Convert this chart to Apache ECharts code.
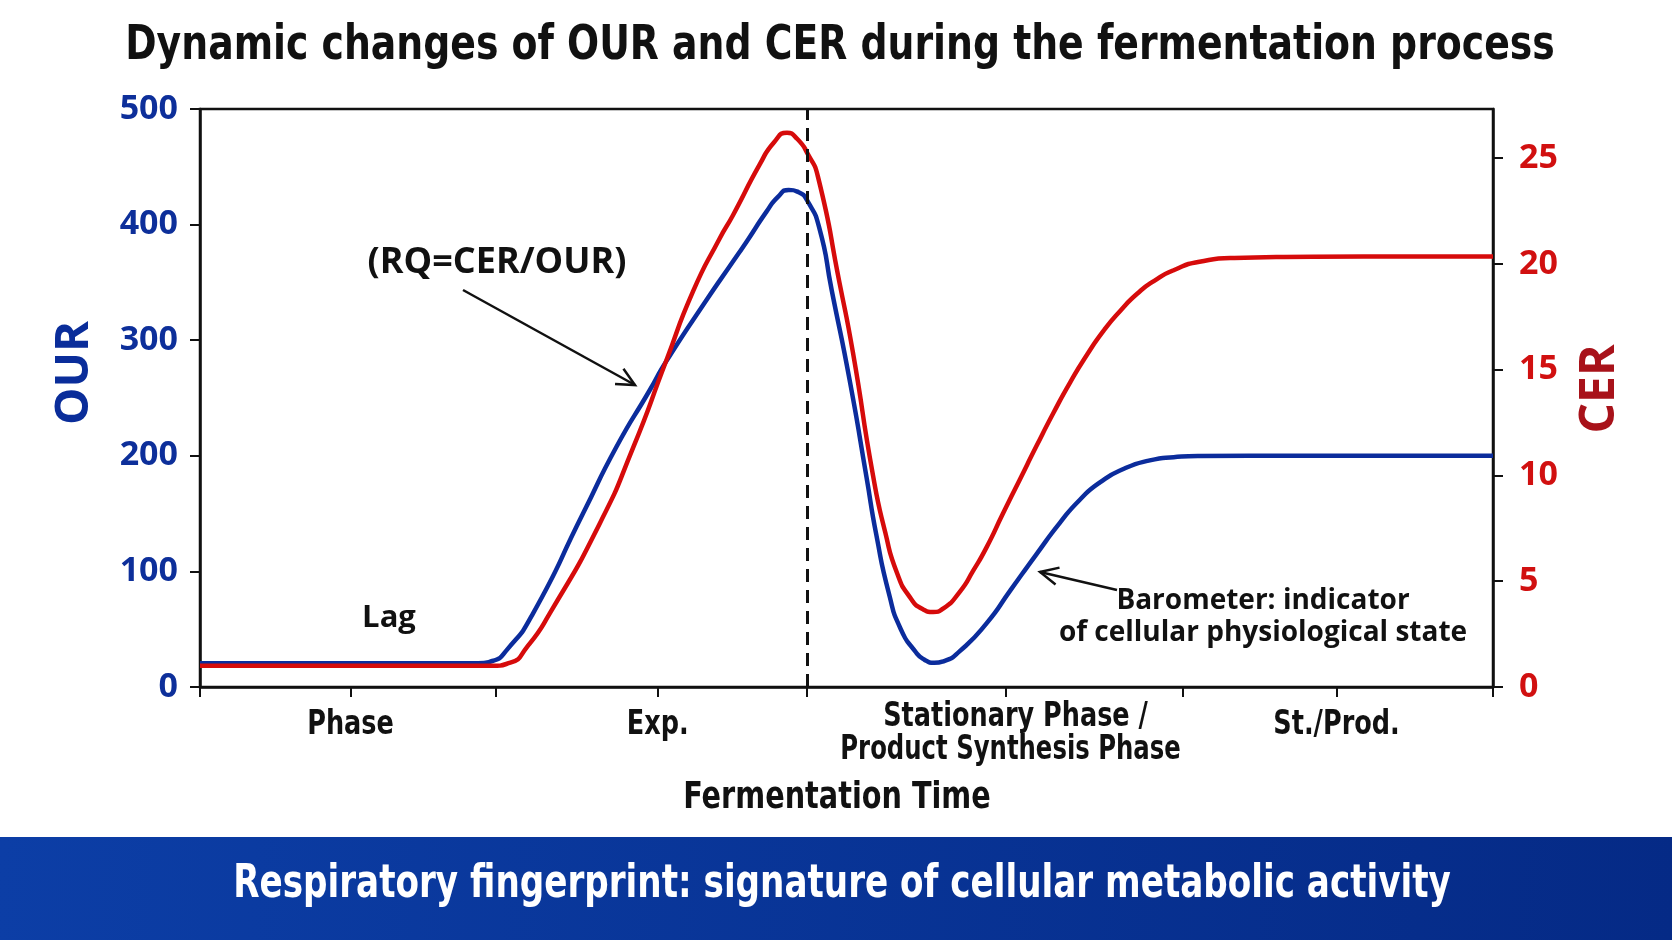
<!DOCTYPE html>
<html><head><meta charset="utf-8">
<script src="https://cdn.jsdelivr.net/npm/echarts@6/dist/echarts.min.js"></script>
<style>html,body{margin:0;padding:0;background:#fff}#c{width:1672px;height:940px}</style>
</head><body><div id="c"></div>
<script>
// ---- data ----
const ourTime   = [0, 10, 20, 21.5, 22.6, 23.8, 25.75, 29.62, 32.2, 34.78, 36.02, 39.16, 41.22, 42.26, 43.8, 44.7, 45.53, 46.3, 47.0, 47.9, 48.86, 50.25, 51.54, 52.3, 53.3, 54.2, 55.3, 56.0, 56.8, 57.6, 58.76, 60.83, 62.7, 64.7, 66.5, 68.05, 69.6, 71.5, 73.46, 75.3, 77.3, 85, 100];
const ourValues = [20.5, 20.5, 20.5, 20.5, 22.5, 33, 63.5, 150, 207.6, 256.7, 281, 334.5, 368, 385, 411, 424, 430, 428, 420, 397, 343, 265, 182, 132, 80, 50, 31, 23.8, 21, 22.7, 31, 55, 84, 115, 142, 162, 177, 189, 196, 198.8, 199.8, 200, 200];
const cerTime   = [0, 10, 20, 22.5, 24.0, 25.3, 27.04, 30.91, 33.49, 36.02, 38.13, 40.19, 41.22, 43.29, 44.4, 45.4, 46.2, 47.0, 47.8, 49.46, 50.5, 52.05, 53.0, 53.9, 54.9, 55.9, 56.7, 57.5, 58.76, 59.8, 60.83, 62.1, 63.4, 64.7, 66.0, 67.3, 68.6, 69.9, 71.2, 72.5, 73.8, 75.3, 77.3, 80, 90, 100];
const cerValues = [1.0, 1.0, 1.0, 1.0, 1.15, 1.9, 3.47, 7.72, 11.3, 15.36, 18.7, 21.2, 22.3, 24.7, 25.75, 26.2, 25.9, 25.2, 24.1, 19.1, 15.8, 10.0, 7.3, 5.4, 4.25, 3.68, 3.55, 3.72, 4.5, 5.5, 6.6, 8.2, 9.8, 11.4, 12.95, 14.4, 15.7, 16.85, 17.8, 18.6, 19.2, 19.7, 20.1, 20.28, 20.35, 20.35];
const ourTicks = [0, 100, 200, 300, 400, 500];
const cerTicks = [0, 5, 10, 15, 20, 25];
const cerMax = 27.32;
const phaseBoundaries = [0, 22.84, 46.93, 76.0, 100];
const phaseLabelPos = [11.64, 35.4, 62.3, 87.9];
const phaseLabels = ['Phase', 'Exp.', 'Stationary Phase /\nProduct Synthesis Phase', 'St./Prod.'];
const peakMarker = 46.93;

const NARROW = "'Liberation Sans Narrow','DejaVu Sans Condensed',sans-serif";
const WIDE = "'Open Sans','Noto Sans',sans-serif";
const BLUE = '#0b2c9c', RED = '#d60b0b', INK = '#111111';

const chart = echarts.init(document.getElementById('c'), null, {renderer: 'canvas'});
const zip = (xs, ys) => xs.map((x, i) => [x, ys[i]]);
const tickVals = phaseBoundaries.concat(phaseLabelPos).sort((a, b) => a - b);

function arrow(x1, y1, x2, y2, len) {
  const a = Math.atan2(y2 - y1, x2 - x1), s = 0.45;
  return [
    {type: 'line', shape: {x1, y1, x2, y2}, style: {stroke: INK, lineWidth: 2.5}, z: 20},
    {type: 'polyline', shape: {points: [
      [x2 - len * Math.cos(a - s), y2 - len * Math.sin(a - s)], [x2, y2],
      [x2 - len * Math.cos(a + s), y2 - len * Math.sin(a + s)]]},
     style: {stroke: INK, lineWidth: 2.5, fill: null}, z: 20}
  ];
}
function txt(text, x, y, size, color, family, extra, lh) {
  return Object.assign({type: 'text', x, y, z: 20, style: {text, fill: color, fontSize: size, fontWeight: 'bold',
    fontFamily: family, align: 'center', verticalAlign: 'middle', lineHeight: lh || size * 1.05}}, extra || {});
}

chart.setOption({
  backgroundColor: '#ffffff',
  animation: false,
  grid: {left: 200, right: 179, top: 109, bottom: 253, show: true, borderColor: INK, borderWidth: 2.5, backgroundColor: 'transparent'},
  xAxis: {type: 'value', min: 0, max: 100,
    axisLine: {show: true, onZero: false, lineStyle: {color: INK, width: 2.5}},
    axisTick: {show: true, customValues: tickVals, length: 10, lineStyle: {color: INK, width: 2}},
    axisLabel: {show: false},
    splitLine: {show: false}},
  yAxis: [
    {type: 'value', position: 'left', min: ourTicks[0], max: ourTicks[ourTicks.length - 1], interval: ourTicks[1] - ourTicks[0],
      axisLine: {show: true, lineStyle: {color: INK, width: 2.5}},
      axisTick: {show: true, length: 10, lineStyle: {color: INK, width: 2}},
      axisLabel: {color: '#0d2f9a', fontFamily: WIDE, fontSize: 34, fontWeight: 'bold', margin: 22},
      splitLine: {show: false}},
    {type: 'value', position: 'right', min: 0, max: cerMax, interval: cerTicks[1] - cerTicks[0],
      axisLine: {show: true, lineStyle: {color: INK, width: 2.5}},
      axisTick: {show: true, customValues: cerTicks, length: 10, lineStyle: {color: INK, width: 2}},
      axisLabel: {showMaxLabel: false, color: '#d11010', fontFamily: WIDE, fontSize: 34, fontWeight: 'bold', margin: 26},
      splitLine: {show: false}}
  ],
  series: [
    {name: 'OUR', type: 'line', yAxisIndex: 0, data: zip(ourTime, ourValues), smooth: 0.6, showSymbol: false, z: 3,
      lineStyle: {color: BLUE, width: 4.5},
      markLine: {silent: true, symbol: ['none', 'none'], label: {show: false},
        lineStyle: {color: INK, type: [13, 8], width: 3}, data: [{xAxis: peakMarker}]}},
    {name: 'CER', type: 'line', yAxisIndex: 1, data: zip(cerTime, cerValues), smooth: 0.6, showSymbol: false, z: 4,
      lineStyle: {color: RED, width: 4.5}}
  ]
});

// labels along the time axis, placed through the axis scale
const axisY = chart.convertToPixel({yAxisIndex: 0}, 0);
const phaseText = [];
phaseLabelPos.forEach((v, i) => {
  const px = chart.convertToPixel({xAxisIndex: 0}, v);
  const lines = phaseLabels[i].split('\n');
  if (lines.length === 1) {
    phaseText.push(txt(lines[0], px, axisY + 38, 33, INK, NARROW, {scaleX: 0.86}));
  } else {
    phaseText.push(txt(lines[0], px + 10, axisY + 30, 33, INK, NARROW, {scaleX: 0.86}));
    phaseText.push(txt(lines[1], px + 5, axisY + 63, 33, INK, NARROW, {scaleX: 0.82}));
  }
});

chart.setOption({
  graphic: [
    txt('Dynamic changes of OUR and CER during the fermentation process', 840, 47, 48, INK, NARROW, {scaleX: 0.875}),
    {type: 'rect', shape: {x: 0, y: 837, width: 1672, height: 103}, z: 1,
      style: {fill: new echarts.graphic.LinearGradient(0, 0, 1, 1, [{offset: 0, color: '#0c3ea6'}, {offset: 1, color: '#052a86'}])}},
    txt('Respiratory fingerprint: signature of cellular metabolic activity', 842, 885, 46, '#ffffff', NARROW, {scaleX: 0.826}),
    txt('Fermentation Time', 837, 798, 38, INK, NARROW, {scaleX: 0.84}),
    ...phaseText,
    txt('OUR', 75, 373, 47, '#0a2d9a', WIDE, {rotation: Math.PI / 2}),
    txt('CER', 1600, 389, 48, '#a8121a', WIDE, {rotation: Math.PI / 2}),
    txt('Lag', 389, 618, 31, INK, WIDE),
    txt('(RQ=CER/OUR)', 497, 263, 36, INK, WIDE),
    txt('Barometer: indicator\nof cellular physiological state', 1263, 617, 28, INK, WIDE, null, 32),
    ...arrow(463, 290, 635, 385, 20),
    ...arrow(1117, 590, 1040, 572, 20)
  ]
});
</script></body></html>
